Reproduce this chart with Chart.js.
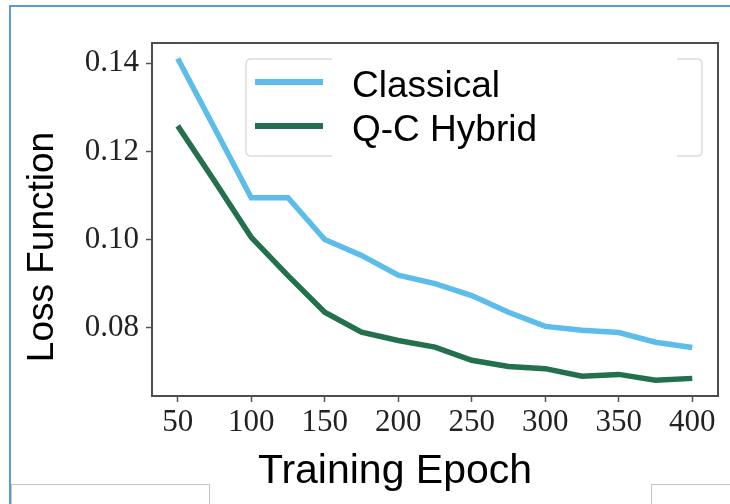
<!DOCTYPE html>
<html>
<head>
<meta charset="utf-8">
<script src="https://cdn.jsdelivr.net/npm/chart.js@4"></script>
<style>
  html, body { margin: 0; padding: 0; background: #fff; }
  #wrap { position: relative; width: 730px; height: 504px; overflow: hidden; background: #fff; }
  #frameTop { position: absolute; left: 9px; top: 5px; width: 730px; height: 2px; background: #5B9BD5; }
  #frameLeft { position: absolute; left: 9px; top: 5px; width: 2px; height: 510px; background: #5B9BD5; }
  #box1 { position: absolute; left: 11px; top: 484px; width: 197px; height: 40px; border: 1px solid #c4c4c4; background: #fff; }
  #box2 { position: absolute; left: 651px; top: 484px; width: 100px; height: 40px; border: 1px solid #c4c4c4; background: #fff; }
  canvas { position: absolute; left: 0; top: 0; }
</style>
</head>
<body>
<div id="wrap">
  <div id="frameTop"></div>
  <div id="frameLeft"></div>
  <div id="box1"></div>
  <div id="box2"></div>
  <canvas id="c" width="730" height="504"></canvas>
</div>
<script>
// ---- data ----
const epochs = [50, 75, 100, 125, 150, 175, 200, 225, 250, 275, 300, 325, 350, 375, 400];
const classicalLoss = [0.1411, 0.1253, 0.1095, 0.1095, 0.1000, 0.0964, 0.0919, 0.0900, 0.0873, 0.0835, 0.0803, 0.0794, 0.0789, 0.0767, 0.0755];
const hybridLoss = [0.1258, 0.1133, 0.1005, 0.0918, 0.0835, 0.0790, 0.0771, 0.0756, 0.0726, 0.0712, 0.0707, 0.0690, 0.0694, 0.0681, 0.0685];
const seriesNames = ['Classical', 'Q-C Hybrid'];
const xTickValues = [50, 100, 150, 200, 250, 300, 350, 400];
const yTickValues = [0.08, 0.10, 0.12, 0.14];
const yTickLabels = ['0.08', '0.10', '0.12', '0.14'];
const xTitle = 'Training Epoch';
const yTitle = 'Loss Function';

const toPoints = (ys) => epochs.map((x, i) => ({ x: x, y: ys[i] }));

const framePlugin = {
  id: 'frame',
  afterDraw(chart) {
    const { ctx, chartArea: a } = chart;
    ctx.save();
    ctx.strokeStyle = '#4d4d4d';
    ctx.lineWidth = 2;
    ctx.strokeRect(a.left, a.top, a.right - a.left, a.bottom - a.top);
    ctx.restore();
  }
};

// axis titles placed where the reference figure has them (centred on the figure, not the axis)
const titlesPlugin = {
  id: 'axisTitles',
  afterDraw(chart) {
    const ctx = chart.ctx;
    ctx.save();
    ctx.fillStyle = '#000';
    ctx.textBaseline = 'alphabetic';
    ctx.textAlign = 'center';
    ctx.font = '41px "Liberation Sans", Arial, sans-serif';
    ctx.fillText(xTitle, 395, 483);
    ctx.translate(53, 247);
    ctx.rotate(-Math.PI / 2);
    ctx.font = '37px "Liberation Sans", Arial, sans-serif';
    ctx.fillText(yTitle, 0, 0);
    ctx.restore();
  }
};

const legendPlugin = {
  id: 'customLegend',
  afterDatasetsDraw(chart) {
    const ctx = chart.ctx;
    ctx.save();
    const bx = 246, by = 59, bw = 456, bh = 97, r = 5;
    ctx.beginPath();
    ctx.moveTo(bx + r, by);
    ctx.lineTo(bx + bw - r, by);
    ctx.quadraticCurveTo(bx + bw, by, bx + bw, by + r);
    ctx.lineTo(bx + bw, by + bh - r);
    ctx.quadraticCurveTo(bx + bw, by + bh, bx + bw - r, by + bh);
    ctx.lineTo(bx + r, by + bh);
    ctx.quadraticCurveTo(bx, by + bh, bx, by + bh - r);
    ctx.lineTo(bx, by + r);
    ctx.quadraticCurveTo(bx, by, bx + r, by);
    ctx.closePath();
    ctx.fillStyle = '#ffffff';
    ctx.fill();
    ctx.strokeStyle = '#dcdcdc';
    ctx.lineWidth = 1.5;
    ctx.stroke();
    ctx.fillStyle = '#ffffff';
    ctx.fillRect(332, by - 3, 677 - 332, bh + 6);
    const rows = [82, 126];
    chart.data.datasets.forEach((ds, i) => {
      const y = rows[i];
      ctx.strokeStyle = ds.borderColor;
      ctx.lineWidth = 6;
      ctx.lineCap = 'butt';
      ctx.beginPath();
      ctx.moveTo(255, y);
      ctx.lineTo(323, y);
      ctx.stroke();
      ctx.fillStyle = '#000';
      ctx.font = '37px "Liberation Sans", Arial, sans-serif';
      ctx.textBaseline = 'alphabetic';
      ctx.textAlign = 'left';
      ctx.fillText(ds.label, 352, y + 15);
    });
    ctx.restore();
  }
};

new Chart(document.getElementById('c'), {
  type: 'line',
  data: {
    datasets: [
      {
        label: seriesNames[0],
        data: toPoints(classicalLoss),
        borderColor: '#5DBDEA',
        borderWidth: 5.5,
        pointRadius: 0,
        tension: 0,
        fill: false
      },
      {
        label: seriesNames[1],
        data: toPoints(hybridLoss),
        borderColor: '#22704C',
        borderWidth: 5.5,
        pointRadius: 0,
        tension: 0,
        fill: false
      }
    ]
  },
  options: {
    responsive: false,
    animation: false,
    layout: { padding: { top: 43, right: 12, left: 0, bottom: 0 } },
    plugins: {
      legend: { display: false },
      tooltip: { enabled: false }
    },
    scales: {
      x: {
        type: 'linear',
        min: 32.5,
        max: 417.5,
        afterFit(scale) { scale.height = 108; },
        afterBuildTicks(scale) { scale.ticks = xTickValues.map(v => ({ value: v })); },
        grid: { display: true, drawOnChartArea: false, drawTicks: true, tickLength: 6, tickColor: '#555', tickWidth: 1.5 },
        border: { display: false },
        ticks: {
          padding: 2,
          color: '#222',
          font: { family: '"Liberation Serif", "DejaVu Serif", serif', size: 31 },
          maxRotation: 0,
          callback: (v) => String(v)
        },
        title: { display: false }
      },
      y: {
        type: 'linear',
        min: 0.0645,
        max: 0.1446,
        afterFit(scale) { scale.width = 152; },
        afterBuildTicks(scale) { scale.ticks = yTickValues.map(v => ({ value: v })); },
        grid: { display: true, drawOnChartArea: false, drawTicks: true, tickLength: 6, tickColor: '#555', tickWidth: 1.5 },
        border: { display: false },
        ticks: {
          padding: 7,
          color: '#222',
          font: { family: '"Liberation Serif", "DejaVu Serif", serif', size: 31 },
          callback: (v) => { const i = yTickValues.findIndex(t => Math.abs(t - v) < 1e-9); return i >= 0 ? yTickLabels[i] : ''; }
        },
        title: { display: false }
      }
    }
  },
  plugins: [framePlugin, legendPlugin, titlesPlugin]
});
</script>
</body>
</html>
